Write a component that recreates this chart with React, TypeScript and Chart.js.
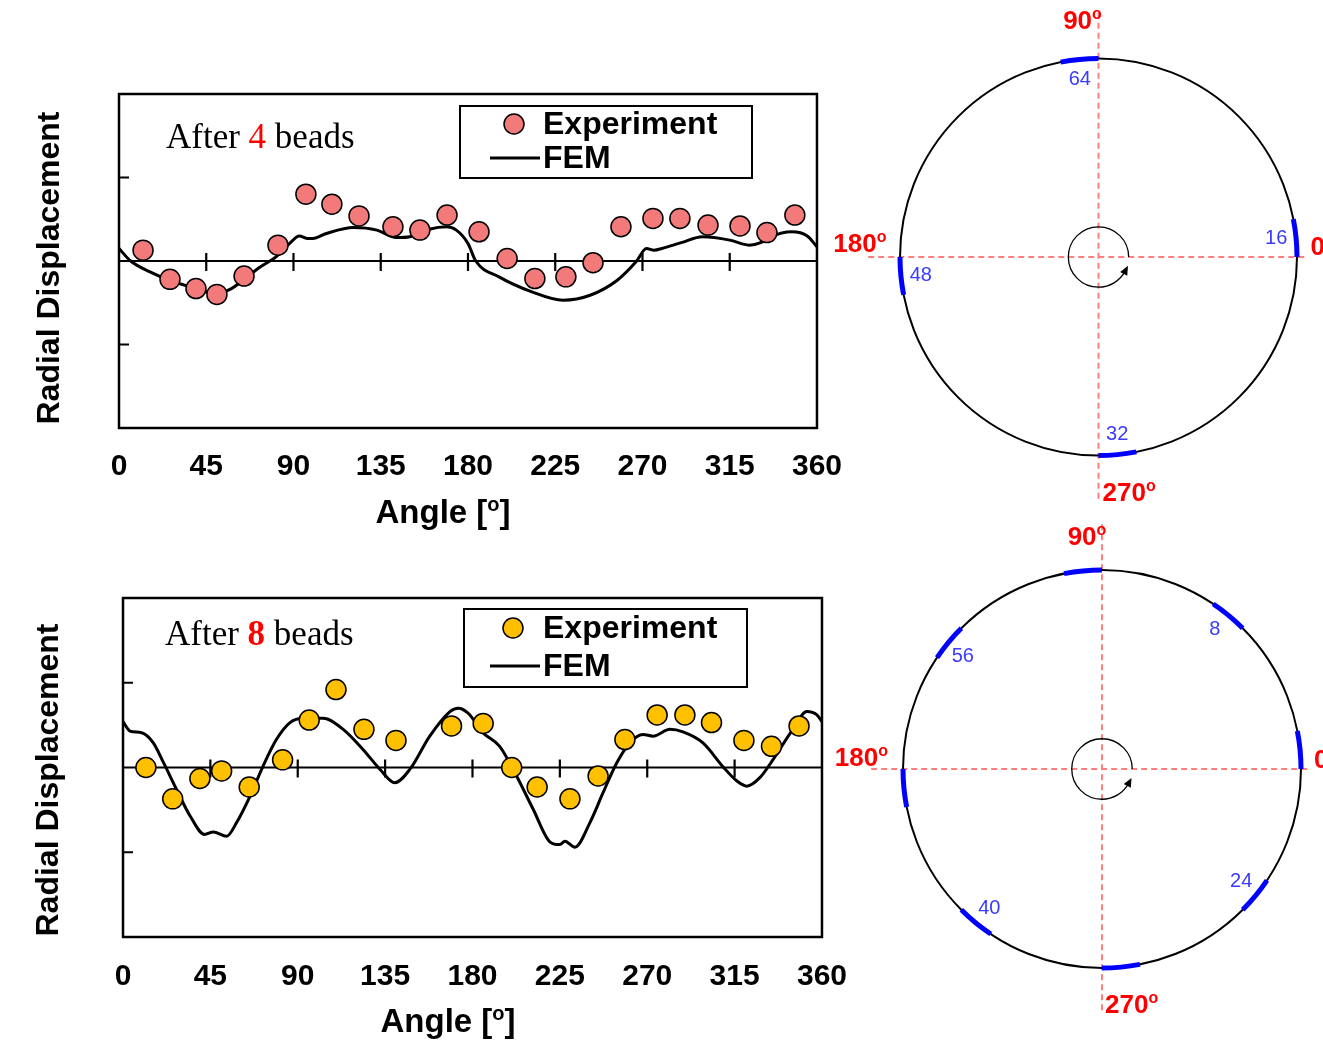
import React, { useEffect, useRef } from 'react';
import { Chart, registerables } from 'chart.js';

Chart.register(...registerables);

const SANS = '"Liberation Sans", Arial, sans-serif';
const SERIF = '"Liberation Serif", "Times New Roman", serif';

// ---------- data ----------
const xTickValues = [0, 45, 90, 135, 180, 225, 270, 315, 360];
const yTickValues = [-1, 0, 1];

const exp4Angle = [12.4, 26.3, 39.7, 50.5, 64.5, 82, 96.4, 109.8, 123.8, 141.3, 155.2, 169.2, 185.7, 200.2, 214.5, 230.5, 244.5, 258.9, 275.4, 289.3, 303.8, 320.3, 334.2, 348.6];
const exp4Value = [0.13, -0.22, -0.33, -0.4, -0.18, 0.19, 0.8, 0.68, 0.54, 0.41, 0.37, 0.55, 0.35, 0.03, -0.21, -0.19, -0.02, 0.41, 0.51, 0.51, 0.43, 0.42, 0.34, 0.55];

const fem4Angle = [0, 6, 16, 26, 38, 50, 58, 64, 73, 81, 88, 93, 97, 100, 107, 121, 133, 143, 150, 160, 169, 174, 180, 184, 196, 213, 229, 243, 257, 267, 272, 276, 280, 290, 301, 315, 325, 331, 336, 347, 355, 360];
const fem4Value = [0.15, 0.0, -0.13, -0.23, -0.32, -0.39, -0.33, -0.23, -0.07, 0.05, 0.21, 0.3, 0.27, 0.27, 0.33, 0.4, 0.37, 0.28, 0.29, 0.38, 0.41, 0.37, 0.21, 0.0, -0.19, -0.37, -0.47, -0.41, -0.23, 0.0, 0.15, 0.13, 0.15, 0.22, 0.29, 0.25, 0.19, 0.22, 0.29, 0.35, 0.3, 0.17];

const exp8Angle = [11.8, 25.6, 39.6, 50.8, 65, 82.2, 95.9, 109.7, 124.1, 140.6, 169.2, 185.5, 200.2, 213.3, 230.2, 244.7, 258.5, 275.1, 289.4, 303.1, 319.8, 334, 348.2];
const exp8Value = [0, -0.37, -0.13, -0.04, -0.23, 0.09, 0.56, 0.92, 0.45, 0.32, 0.49, 0.52, 0, -0.23, -0.37, -0.1, 0.33, 0.62, 0.62, 0.53, 0.32, 0.25, 0.49];

const fem8Angle = [0, 3.6, 9.6, 15.6, 20.8, 27.6, 34.5, 42, 46.5, 53.4, 58.5, 65.4, 72.2, 79, 86, 93, 103, 113.4, 123.7, 132.3, 140, 147.8, 158, 168.4, 172.7, 177.8, 185.4, 194, 202.7, 211.2, 220, 225, 227.6, 232.7, 240.5, 247.2, 254.2, 261, 267.8, 273, 281.7, 288.4, 298.7, 309, 316.2, 321.3, 328, 334.7, 345, 352.2, 357.4, 360];
const fem8Value = [0.54, 0.43, 0.41, 0.29, 0.06, -0.26, -0.57, -0.79, -0.76, -0.81, -0.65, -0.34, 0.02, 0.33, 0.53, 0.58, 0.58, 0.45, 0.21, -0.02, -0.18, -0.02, 0.37, 0.66, 0.7, 0.64, 0.41, 0.25, -0.1, -0.49, -0.88, -0.91, -0.87, -0.94, -0.65, -0.3, 0.05, 0.29, 0.39, 0.37, 0.45, 0.42, 0.29, 0.01, -0.16, -0.22, -0.12, 0.09, 0.45, 0.66, 0.62, 0.54];

const beads4Angles = [0, 90, 180, 270];
const beads4Labels = ['16', '64', '48', '32'];
const beads8Angles = [0, 45, 90, 135, 180, 225, 270, 315];
const beads8Labels = ['', '8', '', '56', '', '40', '', '24'];
const beadSpan = 11;

const seriesLabels = ['Experiment', 'FEM'];
const xTitle = ['Angle [', 'o', ']'];
const yTitle = 'Radial Displacement';

// draw "pre" + superscript "sup" + "post"
function drawSup(ctx: CanvasRenderingContext2D, pre: string, sup: string, post: string, x: number, y: number,
  size: number, align: 'left' | 'center' | 'right') {
  const base = `bold ${size}px ${SANS}`;
  const small = `bold ${Math.round(size * 0.62)}px ${SANS}`;
  ctx.font = base;
  const w1 = ctx.measureText(pre).width;
  const w3 = ctx.measureText(post).width;
  ctx.font = small;
  const w2 = ctx.measureText(sup).width;
  const total = w1 + w2 + w3;
  let sx = x;
  if (align === 'center') sx = x - total / 2;
  if (align === 'right') sx = x - total;
  ctx.textAlign = 'left';
  ctx.textBaseline = 'middle';
  ctx.font = base;
  ctx.fillText(pre, sx, y);
  ctx.font = small;
  ctx.fillText(sup, sx + w1, y - size * 0.27);
  ctx.font = base;
  ctx.fillText(post, sx + w1 + w2, y);
}

// ---------- line charts ----------
type LineProps = {
  left: number; top: number; width: number; height: number;
  pad: { left: number; top: number; right: number };
  yWidth: number; xHeight: number; tickPad: number;
  xTitlePos: [number, number]; yTitlePos: [number, number];
  expAngle: number[]; expValue: number[]; femAngle: number[]; femValue: number[];
  pointColor: string; beadCount: string; beadBold: boolean;
  legend: { dx: number; dy: number; w: number; h: number; mx: number; my: number; lx0: number; lx1: number; ly: number; tx: number };
  note: { dx: number; dy: number };
};

function DisplacementChart(p: LineProps) {
  const ref = useRef<HTMLCanvasElement>(null);
  useEffect(() => {
    const frame = {
      id: 'frame',
      beforeDatasetsDraw(chart: any) {
        const { ctx, chartArea: a, scales: { x, y } } = chart;
        const y0 = y.getPixelForValue(0);
        ctx.save();
        ctx.strokeStyle = '#000';
        ctx.lineWidth = 2.2;
        ctx.beginPath();
        ctx.moveTo(a.left, y0);
        ctx.lineTo(a.right, y0);
        xTickValues.slice(1, -1).forEach((v) => {
          const px = x.getPixelForValue(v);
          ctx.moveTo(px, y0 - 8);
          ctx.lineTo(px, y0 + 10);
        });
        yTickValues.forEach((v) => {
          const py = y.getPixelForValue(v);
          ctx.moveTo(a.left, py);
          ctx.lineTo(a.left + 10, py);
        });
        ctx.stroke();
        ctx.restore();
      },
      afterDraw(chart: any) {
        const { ctx, chartArea: a } = chart;
        ctx.save();
        ctx.strokeStyle = '#000';
        ctx.lineWidth = 2.5;
        ctx.strokeRect(a.left, a.top, a.right - a.left, a.bottom - a.top);
        // axis titles
        ctx.fillStyle = '#000';
        drawSup(ctx, xTitle[0], xTitle[1], xTitle[2], p.xTitlePos[0], p.xTitlePos[1], 33, 'center');
        ctx.save();
        ctx.translate(p.yTitlePos[0], p.yTitlePos[1]);
        ctx.rotate(-Math.PI / 2);
        ctx.font = `bold 32px ${SANS}`;
        ctx.textAlign = 'center';
        ctx.textBaseline = 'middle';
        ctx.fillText(yTitle, 0, 0);
        ctx.restore();
        // legend
        const L = p.legend;
        ctx.fillStyle = '#fff';
        ctx.fillRect(a.left + L.dx, a.top + L.dy, L.w, L.h);
        ctx.lineWidth = 2;
        ctx.strokeRect(a.left + L.dx, a.top + L.dy, L.w, L.h);
        const ds0 = chart.data.datasets[0];
        ctx.beginPath();
        ctx.arc(a.left + L.mx, a.top + L.my, 10, 0, Math.PI * 2);
        ctx.fillStyle = ds0.pointBackgroundColor;
        ctx.fill();
        ctx.lineWidth = 1.5;
        ctx.stroke();
        ctx.beginPath();
        ctx.lineWidth = 3;
        ctx.moveTo(a.left + L.lx0, a.top + L.ly);
        ctx.lineTo(a.left + L.lx1, a.top + L.ly);
        ctx.stroke();
        ctx.fillStyle = '#000';
        ctx.font = `bold 32px ${SANS}`;
        ctx.textBaseline = 'middle';
        ctx.textAlign = 'left';
        ctx.fillText(chart.data.datasets[0].label, a.left + L.tx, a.top + L.my + 1);
        ctx.fillText(chart.data.datasets[1].label, a.left + L.tx, a.top + L.ly + 1);
        // note
        let nx = a.left + p.note.dx;
        const ny = a.top + p.note.dy;
        const parts: [string, string, string][] = [
          ['After ', '#000', 'normal'],
          [p.beadCount, '#ff0000', p.beadBold ? 'bold' : 'normal'],
          [' beads', '#000', 'normal'],
        ];
        parts.forEach(([t, c, w]) => {
          ctx.font = `${w} 35px ${SERIF}`;
          ctx.fillStyle = c;
          ctx.fillText(t, nx, ny);
          nx += ctx.measureText(t).width;
        });
        ctx.restore();
      },
    };
    const chart = new Chart(ref.current as HTMLCanvasElement, {
      type: 'line',
      data: {
        datasets: [
          {
            label: seriesLabels[0],
            data: p.expAngle.map((a, i) => ({ x: a, y: p.expValue[i] })),
            showLine: false,
            pointRadius: 10,
            pointBackgroundColor: p.pointColor,
            pointBorderColor: '#000',
            pointBorderWidth: 1.5,
            backgroundColor: p.pointColor,
            borderColor: '#000',
          },
          {
            label: seriesLabels[1],
            data: p.femAngle.map((a, i) => ({ x: a, y: p.femValue[i] })),
            borderColor: '#000',
            borderWidth: 3,
            pointRadius: 0,
            cubicInterpolationMode: 'monotone',
            fill: false,
          },
        ],
      } as any,
      options: {
        responsive: false,
        animation: false,
        layout: { padding: { left: p.pad.left, top: p.pad.top, right: p.pad.right, bottom: 0 } },
        plugins: { legend: { display: false }, tooltip: { enabled: false } },
        scales: {
          x: {
            type: 'linear', min: 0, max: 360,
            grid: { display: false, drawTicks: false },
            border: { display: false },
            ticks: { stepSize: 45, autoSkip: false, maxRotation: 0, padding: p.tickPad, color: '#000', font: { family: SANS, size: 30, weight: 'bold' } },
            title: { display: false },
            afterFit: (s: any) => { s.height = p.xHeight; },
          },
          y: {
            type: 'linear', min: -2, max: 2,
            grid: { display: false, drawTicks: false },
            border: { display: false },
            ticks: { display: false },
            title: { display: false },
            afterFit: (s: any) => { s.width = p.yWidth; },
          },
        },
      } as any,
      plugins: [frame],
    });
    return () => chart.destroy();
  }, []);
  return (
    <canvas ref={ref} width={p.width} height={p.height}
      style={{ position: 'absolute', left: p.left, top: p.top, width: p.width, height: p.height }} />
  );
}

// ---------- circle diagrams ----------
type RingProps = {
  left: number; top: number; width: number; height: number;
  pad: { left: number; top: number; right: number; bottom: number };
  angles: number[]; labels: string[];
  red: { t90: [number, number]; t180: [number, number]; t270: [number, number]; t0: [number, number] };
};

function RingChart(p: RingProps) {
  const ref = useRef<HTMLCanvasElement>(null);
  useEffect(() => {
    const rad = (d: number) => (d * Math.PI) / 180;
    const ring = {
      id: 'ring',
      afterDraw(chart: any) {
        const { ctx, scales: { x, y } } = chart;
        const cx = x.getPixelForValue(0);
        const cy = y.getPixelForValue(0);
        const r = x.getPixelForValue(1) - cx;
        ctx.save();
        // dashed cross
        ctx.setLineDash([6, 4]);
        ctx.strokeStyle = '#ff7f7f';
        ctx.lineWidth = 2;
        ctx.beginPath();
        ctx.moveTo(cx - 1.16 * r, cy);
        ctx.lineTo(cx + 1.04 * r, cy);
        ctx.moveTo(cx, cy - 1.23 * r);
        ctx.lineTo(cx, cy + 1.23 * r);
        ctx.stroke();
        ctx.setLineDash([]);
        // main circle
        ctx.strokeStyle = '#000';
        ctx.lineWidth = 2;
        ctx.beginPath();
        ctx.arc(cx, cy, r, 0, Math.PI * 2);
        ctx.stroke();
        // rotation arrow
        const rr = r * 0.152;
        ctx.lineWidth = 1.3;
        ctx.beginPath();
        ctx.arc(cx, cy, rr, 0, -rad(332), true);
        ctx.stroke();
        const ea = rad(332);
        const ex = cx + rr * Math.cos(ea);
        const ey = cy - rr * Math.sin(ea);
        const tx = -Math.sin(ea), ty = -Math.cos(ea);
        const nx = -ty, ny = tx;
        ctx.fillStyle = '#000';
        ctx.beginPath();
        ctx.moveTo(ex + tx * 6, ey + ty * 6);
        ctx.lineTo(ex - tx * 3 + nx * 4, ey - ty * 3 + ny * 4);
        ctx.lineTo(ex - tx * 3 - nx * 4, ey - ty * 3 - ny * 4);
        ctx.closePath();
        ctx.fill();
        // bead arcs
        ctx.strokeStyle = '#0000ff';
        ctx.lineWidth = 5;
        p.angles.forEach((a) => {
          ctx.beginPath();
          ctx.arc(cx, cy, r, -rad(a), -rad(a + beadSpan), true);
          ctx.stroke();
        });
        ctx.fillStyle = '#3a3aff';
        ctx.font = `20px ${SANS}`;
        ctx.textAlign = 'center';
        ctx.textBaseline = 'middle';
        p.angles.forEach((a, i) => {
          const t = p.labels[i];
          if (!t) return;
          const la = rad(a + 6);
          ctx.fillText(t, cx + 0.9 * r * Math.cos(la), cy - 0.9 * r * Math.sin(la));
        });
        // red angle labels
        ctx.fillStyle = '#ff0000';
        drawSup(ctx, '90', 'o', '', cx + p.red.t90[0], cy + p.red.t90[1], 26, 'center');
        drawSup(ctx, '180', 'o', '', cx + p.red.t180[0], cy + p.red.t180[1], 26, 'right');
        drawSup(ctx, '270', 'o', '', cx + p.red.t270[0], cy + p.red.t270[1], 26, 'left');
        ctx.font = `bold 26px ${SANS}`;
        ctx.textAlign = 'left';
        ctx.textBaseline = 'middle';
        ctx.fillText('0', cx + p.red.t0[0], cy + p.red.t0[1]);
        ctx.restore();
      },
    };
    const chart = new Chart(ref.current as HTMLCanvasElement, {
      type: 'scatter',
      data: { datasets: [] },
      options: {
        responsive: false,
        animation: false,
        layout: { padding: p.pad },
        plugins: { legend: { display: false }, tooltip: { enabled: false } },
        scales: {
          x: { type: 'linear', min: -1, max: 1, display: false },
          y: { type: 'linear', min: -1, max: 1, display: false },
        },
      } as any,
      plugins: [ring],
    });
    return () => chart.destroy();
  }, []);
  return (
    <canvas ref={ref} width={p.width} height={p.height}
      style={{ position: 'absolute', left: p.left, top: p.top, width: p.width, height: p.height }} />
  );
}

export default function App() {
  return (
    <div style={{ position: 'absolute', left: 0, top: 0, width: 1323, height: 1043, background: '#fff', overflow: 'hidden' }}>
      <DisplacementChart
        left={0} top={0} width={863} height={545}
        pad={{ left: 30, top: 94, right: 0 }} yWidth={89} xHeight={117} tickPad={21}
        xTitlePos={[443, 514]} yTitlePos={[50, 268]}
        expAngle={exp4Angle} expValue={exp4Value} femAngle={fem4Angle} femValue={fem4Value}
        pointColor="#F27A7A" beadCount="4" beadBold={false}
        legend={{ dx: 341, dy: 12, w: 292, h: 72, mx: 395, my: 30, lx0: 371, lx1: 421, ly: 64, tx: 424 }}
        note={{ dx: 47, dy: 45 }}
      />
      <DisplacementChart
        left={0} top={545} width={869} height={498}
        pad={{ left: 28, top: 53, right: 0 }} yWidth={95} xHeight={106} tickPad={22}
        xTitlePos={[448, 478]} yTitlePos={[49, 235]}
        expAngle={exp8Angle} expValue={exp8Value} femAngle={fem8Angle} femValue={fem8Value}
        pointColor="#FFC000" beadCount="8" beadBold={true}
        legend={{ dx: 341, dy: 11, w: 283, h: 78, mx: 390, my: 30, lx0: 367, lx1: 417, ly: 68, tx: 420 }}
        note={{ dx: 42, dy: 38 }}
      />
      <RingChart
        left={820} top={0} width={503} height={520}
        pad={{ left: 80, top: 59, right: 26, bottom: 65 }}
        angles={beads4Angles} labels={beads4Labels}
        red={{ t90: [-16, -235], t180: [-212, -12], t270: [4, 237], t0: [212, -9] }}
      />
      <RingChart
        left={820} top={520} width={503} height={523}
        pad={{ left: 83, top: 51, right: 22, bottom: 76 }}
        angles={beads8Angles} labels={beads8Labels}
        red={{ t90: [-15, -231], t180: [-214, -10], t270: [3, 237], t0: [212, -8] }}
      />
    </div>
  );
}
